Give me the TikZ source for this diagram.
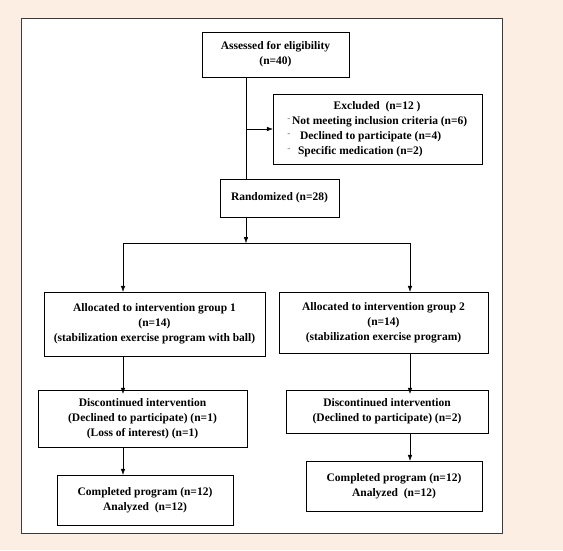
\documentclass[tikz,border=0pt]{standalone}
\usepackage{fontspec}
\setmainfont{Liberation Serif}
\usetikzlibrary{arrows.meta}
\definecolor{peach}{RGB}{253,238,228}
\definecolor{frameline}{RGB}{60,60,60}
\tikzset{
  box/.style={draw, fill=white, align=center, inner sep=2pt,
    font=\bfseries\fontsize{11.5}{15}\selectfont},
  flow/.style={-{Latex[length=6pt,width=4.5pt]}},
}
\newcommand{\dotmark}{{\scriptsize\raisebox{1pt}{¨}}}
\begin{document}
\begin{tikzpicture}[x=1pt,y=-1pt,>=latex]
% canvas and frame
\fill[peach] (0,0) rectangle (563,550);
\draw[frameline, fill=white] (21,18) rectangle (502,533);

\node[box, minimum width=147pt, minimum height=45pt] (assess) at (275.5,54.5)
  {Assessed for eligibility\\(n=40)};
\node[box, minimum width=209pt, minimum height=70pt, align=left] (excl) at (377.5,129)
  {\hspace*{46pt}Excluded~~(n=12~)\\
   \dotmark\hspace*{2pt}Not meeting inclusion criteria (n=6)\\
   \dotmark\hspace*{10pt}Declined to participate (n=4)\\
   \dotmark\hspace*{8pt}Specific medication (n=2)};
\node[box, minimum width=119pt, minimum height=38pt] (rand) at (279.5,198)
  {Randomized (n=28)};

\node[box, minimum width=221pt, minimum height=64pt] (alloc1) at (154.5,324)
  {Allocated to intervention group 1\\(n=14)\\(stabilization exercise program with ball)};
\node[box, minimum width=209pt, minimum height=61pt] (alloc2) at (383.5,322.5)
  {Allocated to intervention group 2\\(n=14)\\(stabilization exercise program)};

\node[box, minimum width=209pt, minimum height=57pt] (disc1) at (142.5,418.5)
  {Discontinued intervention\\(Declined to participate) (n=1)\\(Loss of interest) (n=1)};
\node[box, minimum width=202pt, minimum height=43pt] (disc2) at (387,411.5)
  {Discontinued intervention\\(Declined to participate) (n=2)};

\node[box, minimum width=176pt, minimum height=50pt] (comp1) at (145,500)
  {Completed program (n=12)\\Analyzed~~(n=12)};
\node[box, minimum width=176pt, minimum height=50pt] (comp2) at (394,486)
  {Completed program (n=12)\\Analyzed~~(n=12)};

% trunk and split
\coordinate (trunk) at (246,0);
\coordinate (split) at (246,243);
\coordinate (left) at (123,243);
\coordinate (right) at (410,243);

\draw (assess.south -| trunk) -- (rand.north -| trunk);
\draw[flow] (trunk |- excl.west) -- (excl.west);
\draw[flow] (rand.south -| trunk) -- (split);
\draw (left) -- (right);

\draw[flow] (left) -- (alloc1.north -| left);
\draw[flow] (right) -- (alloc2.north -| right);
\draw[flow] (alloc1.south -| left) -- ([yshift=-4pt]disc1.north -| left);
\draw[flow] (alloc2.south -| right) -- ([yshift=-4pt]disc2.north -| right);
\draw[flow] (disc1.south -| left) -- (comp1.north -| left);
\draw[flow] (disc2.south -| right) -- (comp2.north -| right);

\end{tikzpicture}
\end{document}
